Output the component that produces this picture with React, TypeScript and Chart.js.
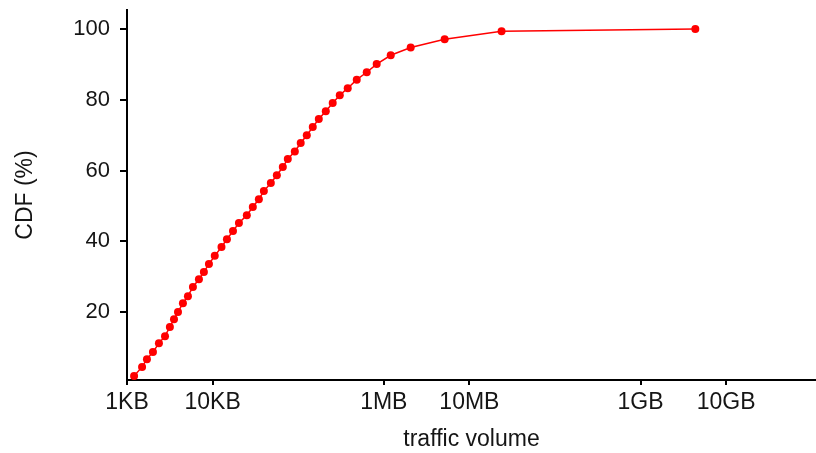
import React, { useEffect, useRef } from "react";
import { Chart, registerables } from "chart.js";

Chart.register(...registerables);

// Traffic volume per flow, in KB, and the cumulative share (%) at each size
const volumeKB = [
  1.21, 1.5, 1.71, 2.01, 2.36, 2.78, 3.17, 3.54, 3.94, 4.5, 5.15, 5.89, 6.92, 7.91, 9.06,
  10.6, 12.7, 14.7, 17.3, 20.3, 25.1, 29.5, 34.7, 39.7, 47.9, 56.3, 66.1, 75.6, 91.3, 107,
  126, 148, 174, 210, 253, 306, 379, 483, 632, 826, 1205, 2062, 5140, 23760, 4360000,
];
const cdfPercent = [
  1.9, 4.5, 6.7, 8.7, 11.2, 13.2, 15.8, 18.0, 20.0, 22.5, 24.5, 27.1, 29.3, 31.3, 33.6,
  35.9, 38.4, 40.6, 42.9, 45.2, 47.4, 49.7, 51.9, 54.2, 56.5, 58.7, 61.0, 63.3, 65.4, 67.8,
  70.0, 72.3, 74.6, 76.8, 79.1, 81.3, 83.3, 85.7, 87.8, 90.1, 92.6, 94.8, 97.1, 99.4, 100,
];

// Axis ticks (x in KB)
const xTickValues = [1, 10, 1e3, 1e4, 1e6, 1e7];
const xTickLabels = ["1KB", "10KB", "1MB", "10MB", "1GB", "10GB"];
const yTickValues = [20, 40, 60, 80, 100];

const FONT = "'Liberation Sans', Arial, Helvetica, sans-serif";
const TEXT = "#151515";

export default function App() {
  const canvasRef = useRef<HTMLCanvasElement | null>(null);

  useEffect(() => {
    document.body.style.margin = "0";
    const canvas = canvasRef.current;
    if (!canvas) return;

    const chart = new Chart(canvas, {
      type: "line",
      data: {
        datasets: [
          {
            data: volumeKB.map((v, i) => ({ x: v, y: cdfPercent[i] })),
            borderColor: "#ff0000",
            borderWidth: 1.5,
            backgroundColor: "#ff0000",
            pointBackgroundColor: "#ff0000",
            pointBorderWidth: 0,
            pointRadius: 4,
            tension: 0,
            clip: false as any,
          },
        ],
      },
      options: {
        animation: false,
        responsive: false,
        layout: { autoPadding: false, padding: { top: 10, right: 0, left: 0, bottom: 0 } },
        plugins: { legend: { display: false }, tooltip: { enabled: false } },
        scales: {
          x: {
            type: "logarithmic",
            min: 1,
            max: 1.12e8,
            afterBuildTicks: (scale: any) => {
              scale.ticks = xTickValues.map((v) => ({ value: v }));
            },
            afterFit: (scale: any) => {
              scale.height = 73;
              scale.paddingLeft = 0;
              scale.paddingRight = 0;
            },
            ticks: {
              autoSkip: false,
              maxRotation: 0,
              padding: 4,
              color: TEXT,
              font: { family: FONT, size: 23 },
              callback: (value: any) => {
                const i = xTickValues.indexOf(Number(value));
                return i >= 0 ? xTickLabels[i] : "";
              },
            },
            grid: {
              drawOnChartArea: false,
              drawTicks: true,
              tickLength: 5,
              color: "#000",
              lineWidth: 2,
            },
            border: { display: true, color: "#000", width: 2 },
            title: {
              display: true,
              text: "traffic volume",
              color: TEXT,
              font: { family: FONT, size: 23 },
              padding: { top: 0, bottom: 0 },
            },
          },
          y: {
            type: "linear",
            min: 0.8,
            max: 105.4,
            afterBuildTicks: (scale: any) => {
              scale.ticks = yTickValues.map((v) => ({ value: v }));
            },
            afterFit: (scale: any) => {
              scale.width = 127;
              scale.paddingTop = 0;
              scale.paddingBottom = 0;
            },
            ticks: {
              padding: 10,
              color: TEXT,
              font: { family: FONT, size: 22 },
            },
            grid: {
              drawOnChartArea: false,
              drawTicks: true,
              tickLength: 7,
              color: "#000",
              lineWidth: 2,
            },
            border: { display: true, color: "#000", width: 2 },
            title: {
              display: true,
              text: "CDF (%)",
              color: TEXT,
              font: { family: FONT, size: 23 },
              padding: { top: 12, bottom: 0 },
            },
          },
        },
      },
    });

    return () => chart.destroy();
  }, []);

  return (
    <div style={{ width: 816, height: 453, position: "relative", background: "#fff" }}>
      <canvas ref={canvasRef} width={816} height={453} />
    </div>
  );
}
